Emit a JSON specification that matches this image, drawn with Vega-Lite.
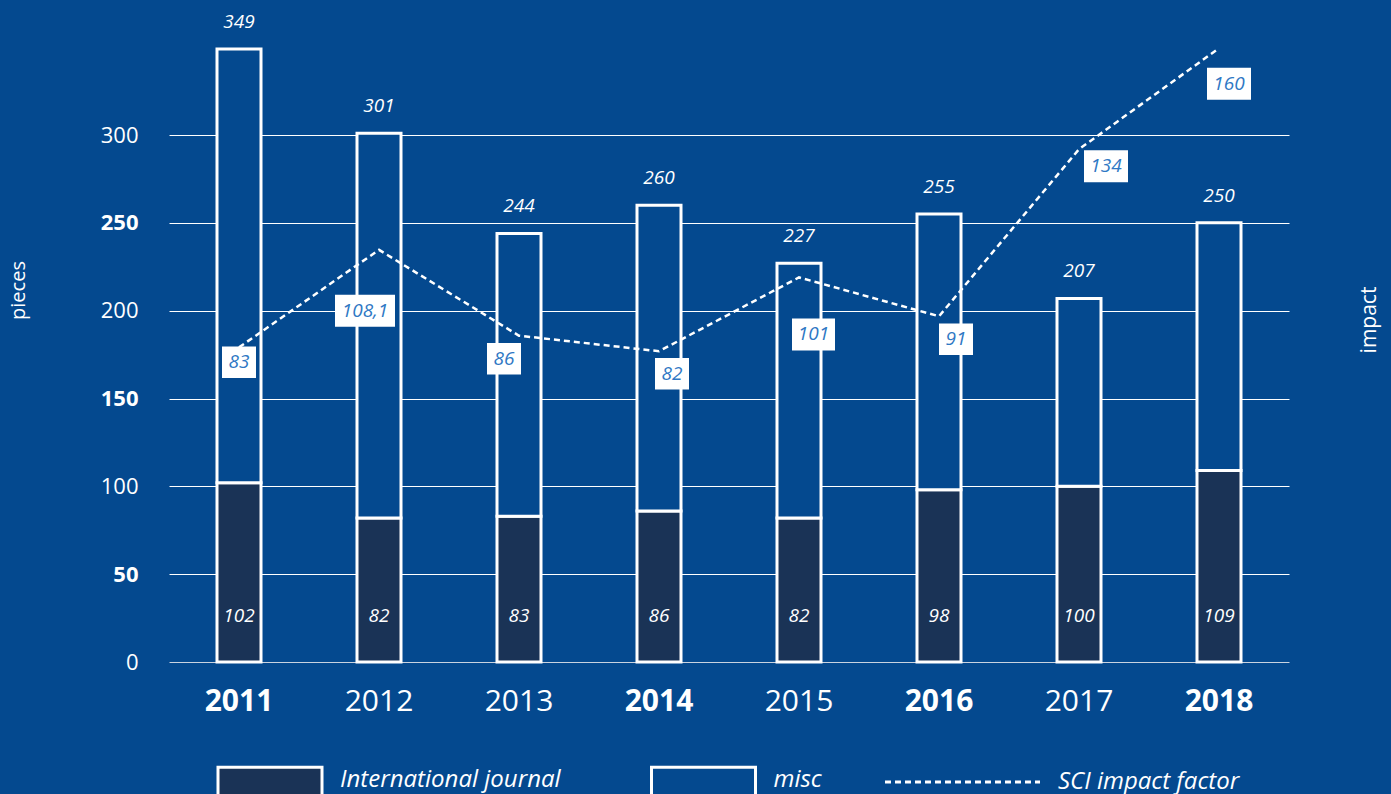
{
  "$schema": "https://vega.github.io/schema/vega-lite/v6.json",
  "width": 1120,
  "height": 606,
  "autosize": {"type": "none"},
  "padding": {"left": 169, "top": 56, "right": 102, "bottom": 132},
  "background": "#04498f",
  "config": {
    "view": {"stroke": null},
    "font": "Open Sans",
    "axis": {
      "labelFont": "Open Sans",
      "titleFont": "Open Sans",
      "labelColor": "white",
      "titleColor": "white",
      "titleFontWeight": "normal",
      "gridColor": "white",
      "gridOpacity": 1,
      "gridWidth": 1
    },
    "legend": {
      "orient": "none",
      "direction": "horizontal",
      "title": null,
      "padding": 0,
      "labelFont": "Open Sans",
      "labelFontSize": 24,
      "labelFontStyle": "italic",
      "labelColor": "white",
      "labelBaseline": "alphabetic",
      "labelLimit": 400,
      "labelOffset": 16.5,
      "symbolStrokeWidth": 3,
      "symbolStrokeColor": "white",
      "symbolOpacity": 1
    }
  },
  "datasets": {
    "bars": [
      {"year": "2011", "series": "International journal", "pieces": 102},
      {"year": "2011", "series": "misc", "pieces": 247},
      {"year": "2012", "series": "International journal", "pieces": 82},
      {"year": "2012", "series": "misc", "pieces": 219},
      {"year": "2013", "series": "International journal", "pieces": 83},
      {"year": "2013", "series": "misc", "pieces": 161},
      {"year": "2014", "series": "International journal", "pieces": 86},
      {"year": "2014", "series": "misc", "pieces": 174},
      {"year": "2015", "series": "International journal", "pieces": 82},
      {"year": "2015", "series": "misc", "pieces": 145},
      {"year": "2016", "series": "International journal", "pieces": 98},
      {"year": "2016", "series": "misc", "pieces": 157},
      {"year": "2017", "series": "International journal", "pieces": 100},
      {"year": "2017", "series": "misc", "pieces": 107},
      {"year": "2018", "series": "International journal", "pieces": 109},
      {"year": "2018", "series": "misc", "pieces": 141}
    ],
    "years": [
      {"year": "2011", "total": 349, "intl": 102, "impact": 83, "impactText": "83"},
      {"year": "2012", "total": 301, "intl": 82, "impact": 108.1, "impactText": "108,1"},
      {"year": "2013", "total": 244, "intl": 83, "impact": 86, "impactText": "86"},
      {"year": "2014", "total": 260, "intl": 86, "impact": 82, "impactText": "82"},
      {"year": "2015", "total": 227, "intl": 82, "impact": 101, "impactText": "101"},
      {"year": "2016", "total": 255, "intl": 98, "impact": 91, "impactText": "91"},
      {"year": "2017", "total": 207, "intl": 100, "impact": 134, "impactText": "134"},
      {"year": "2018", "total": 250, "intl": 109, "impact": 160, "impactText": "160"}
    ]
  },
  "layer": [
    {
      "layer": [
        {
          "data": {"name": "bars"},
          "mark": {"type": "bar", "width": 44, "stroke": "white", "strokeWidth": 3},
          "encoding": {
            "x": {
              "field": "year", "type": "nominal",
              "scale": {"paddingInner": 0, "paddingOuter": 0},
              "axis": {
                "title": null, "labelFontSize": 30, "labelAngle": 0,
                "labelFontWeight": {"condition": {"test": "indexof(['2011','2014','2016','2018'], datum.value) >= 0", "value": "bold"}, "value": "normal"},
                "labelPadding": 39, "labelBaseline": "middle",
                "ticks": false, "domain": false
              }
            },
            "y": {
              "field": "pieces", "type": "quantitative", "stack": "zero",
              "scale": {"domain": [0, 345], "nice": false},
              "axis": {
                "values": [0, 50, 100, 150, 200, 250, 300],
                "title": "pieces", "titleFontSize": 20, "titleAngle": -90,
                "titleX": -151, "titleY": 234, "titleAlign": "center", "titleBaseline": "middle",
                "labelFontSize": 22, "labelPadding": 31, "ticks": false, "domain": false, "grid": true,
                "labelFontWeight": {"condition": {"test": "datum.value % 100 === 50", "value": "bold"}, "value": "normal"},
                "gridColor": {"condition": {"test": "datum.value === 0", "value": "#c9d3e0"}, "value": "white"}
              }
            },
            "color": {
              "field": "series", "type": "nominal",
              "scale": {"domain": ["International journal", "misc"], "range": ["#1a3356", "#04498f"]},
              "legend": {
                "legendX": 47.5, "legendY": 677.5,
                "symbolType": "M-1,-0.385H1V0.385H-1Z", "symbolSize": 10816,
                "columnPadding": 83.5
              }
            },
            "order": {"field": "series", "sort": "ascending"}
          }
        },
        {
          "data": {"name": "years"},
          "mark": {"type": "text", "dy": -27, "fontStyle": "italic", "fontSize": 19, "fill": "white"},
          "encoding": {
            "x": {"field": "year", "type": "nominal"},
            "y": {"field": "total", "type": "quantitative"},
            "text": {"field": "total"}
          }
        },
        {
          "data": {"name": "years"},
          "mark": {"type": "text", "dy": -46, "fontStyle": "italic", "fontSize": 19, "fill": "white"},
          "encoding": {
            "x": {"field": "year", "type": "nominal"},
            "y": {"datum": 0, "type": "quantitative"},
            "text": {"field": "intl"}
          }
        }
      ]
    },
    {
      "data": {"name": "years"},
      "layer": [
        {
          "mark": {"type": "line", "stroke": "white", "strokeWidth": 2.5},
          "encoding": {
            "x": {"field": "year", "type": "nominal"},
            "y": {
              "field": "impact", "type": "quantitative",
              "scale": {"domain": [2, 158], "nice": false, "zero": false},
              "axis": {
                "orient": "right", "title": "impact", "labels": false, "ticks": false, "domain": false, "grid": false,
                "titleFontSize": 21, "titleAngle": -90, "titleX": 80, "titleY": 263.5, "titleAlign": "center", "titleBaseline": "middle"
              }
            },
            "strokeDash": {
              "datum": "SCI impact factor", "type": "nominal",
              "scale": {"domain": ["SCI impact factor"], "range": [[6, 4]]},
              "legend": {
                "legendX": 714.5, "legendY": 647,
                "symbolType": "M-1,0H1", "symbolSize": 24025,
                "symbolDash": [5, 3], "labelBaseline": "middle"
              }
            }
          }
        },
        {"transform": [{"filter": "datum.year === '2011'"}], "mark": {"type": "point", "shape": "M-1,-0.926H1V0.926H-1Z", "size": 1156, "filled": true, "fill": "white", "opacity": 1, "strokeWidth": 0, "xOffset": 0, "yOffset": 15}, "encoding": {"x": {"field": "year", "type": "nominal"}, "y": {"field": "impact", "type": "quantitative"}}},
        {"transform": [{"filter": "datum.year === '2011'"}], "mark": {"type": "text", "fontStyle": "italic", "fontSize": 19, "fill": "#2f78c4", "xOffset": 0, "yOffset": 15}, "encoding": {"x": {"field": "year", "type": "nominal"}, "y": {"field": "impact", "type": "quantitative"}, "text": {"field": "impactText"}}},
        {"transform": [{"filter": "datum.year === '2012'"}], "mark": {"type": "point", "shape": "M-1,-0.533H1V0.533H-1Z", "size": 3600, "filled": true, "fill": "white", "opacity": 1, "strokeWidth": 0, "xOffset": -14, "yOffset": 61}, "encoding": {"x": {"field": "year", "type": "nominal"}, "y": {"field": "impact", "type": "quantitative"}}},
        {"transform": [{"filter": "datum.year === '2012'"}], "mark": {"type": "text", "fontStyle": "italic", "fontSize": 19, "fill": "#2f78c4", "xOffset": -14, "yOffset": 61}, "encoding": {"x": {"field": "year", "type": "nominal"}, "y": {"field": "impact", "type": "quantitative"}, "text": {"field": "impactText"}}},
        {"transform": [{"filter": "datum.year === '2013'"}], "mark": {"type": "point", "shape": "M-1,-0.926H1V0.926H-1Z", "size": 1156, "filled": true, "fill": "white", "opacity": 1, "strokeWidth": 0, "xOffset": -15, "yOffset": 23}, "encoding": {"x": {"field": "year", "type": "nominal"}, "y": {"field": "impact", "type": "quantitative"}}},
        {"transform": [{"filter": "datum.year === '2013'"}], "mark": {"type": "text", "fontStyle": "italic", "fontSize": 19, "fill": "#2f78c4", "xOffset": -15, "yOffset": 23}, "encoding": {"x": {"field": "year", "type": "nominal"}, "y": {"field": "impact", "type": "quantitative"}, "text": {"field": "impactText"}}},
        {"transform": [{"filter": "datum.year === '2014'"}], "mark": {"type": "point", "shape": "M-1,-0.926H1V0.926H-1Z", "size": 1156, "filled": true, "fill": "white", "opacity": 1, "strokeWidth": 0, "xOffset": 13, "yOffset": 22.5}, "encoding": {"x": {"field": "year", "type": "nominal"}, "y": {"field": "impact", "type": "quantitative"}}},
        {"transform": [{"filter": "datum.year === '2014'"}], "mark": {"type": "text", "fontStyle": "italic", "fontSize": 19, "fill": "#2f78c4", "xOffset": 13, "yOffset": 22.5}, "encoding": {"x": {"field": "year", "type": "nominal"}, "y": {"field": "impact", "type": "quantitative"}, "text": {"field": "impactText"}}},
        {"transform": [{"filter": "datum.year === '2015'"}], "mark": {"type": "point", "shape": "M-1,-0.744H1V0.744H-1Z", "size": 1849, "filled": true, "fill": "white", "opacity": 1, "strokeWidth": 0, "xOffset": 14.5, "yOffset": 57}, "encoding": {"x": {"field": "year", "type": "nominal"}, "y": {"field": "impact", "type": "quantitative"}}},
        {"transform": [{"filter": "datum.year === '2015'"}], "mark": {"type": "text", "fontStyle": "italic", "fontSize": 19, "fill": "#2f78c4", "xOffset": 14.5, "yOffset": 57}, "encoding": {"x": {"field": "year", "type": "nominal"}, "y": {"field": "impact", "type": "quantitative"}, "text": {"field": "impactText"}}},
        {"transform": [{"filter": "datum.year === '2016'"}], "mark": {"type": "point", "shape": "M-1,-0.926H1V0.926H-1Z", "size": 1156, "filled": true, "fill": "white", "opacity": 1, "strokeWidth": 0, "xOffset": 17, "yOffset": 23}, "encoding": {"x": {"field": "year", "type": "nominal"}, "y": {"field": "impact", "type": "quantitative"}}},
        {"transform": [{"filter": "datum.year === '2016'"}], "mark": {"type": "text", "fontStyle": "italic", "fontSize": 19, "fill": "#2f78c4", "xOffset": 17, "yOffset": 23}, "encoding": {"x": {"field": "year", "type": "nominal"}, "y": {"field": "impact", "type": "quantitative"}, "text": {"field": "impactText"}}},
        {"transform": [{"filter": "datum.year === '2017'"}], "mark": {"type": "point", "shape": "M-1,-0.727H1V0.727H-1Z", "size": 1936, "filled": true, "fill": "white", "opacity": 1, "strokeWidth": 0, "xOffset": 27, "yOffset": 17}, "encoding": {"x": {"field": "year", "type": "nominal"}, "y": {"field": "impact", "type": "quantitative"}}},
        {"transform": [{"filter": "datum.year === '2017'"}], "mark": {"type": "text", "fontStyle": "italic", "fontSize": 19, "fill": "#2f78c4", "xOffset": 27, "yOffset": 17}, "encoding": {"x": {"field": "year", "type": "nominal"}, "y": {"field": "impact", "type": "quantitative"}, "text": {"field": "impactText"}}},
        {"transform": [{"filter": "datum.year === '2018'"}], "mark": {"type": "point", "shape": "M-1,-0.727H1V0.727H-1Z", "size": 1936, "filled": true, "fill": "white", "opacity": 1, "strokeWidth": 0, "xOffset": 10, "yOffset": 35.5}, "encoding": {"x": {"field": "year", "type": "nominal"}, "y": {"field": "impact", "type": "quantitative"}}},
        {"transform": [{"filter": "datum.year === '2018'"}], "mark": {"type": "text", "fontStyle": "italic", "fontSize": 19, "fill": "#2f78c4", "xOffset": 10, "yOffset": 35.5}, "encoding": {"x": {"field": "year", "type": "nominal"}, "y": {"field": "impact", "type": "quantitative"}, "text": {"field": "impactText"}}}
      ]
    }
  ],
  "resolve": {"scale": {"y": "independent"}, "axis": {"y": "independent"}}
}
